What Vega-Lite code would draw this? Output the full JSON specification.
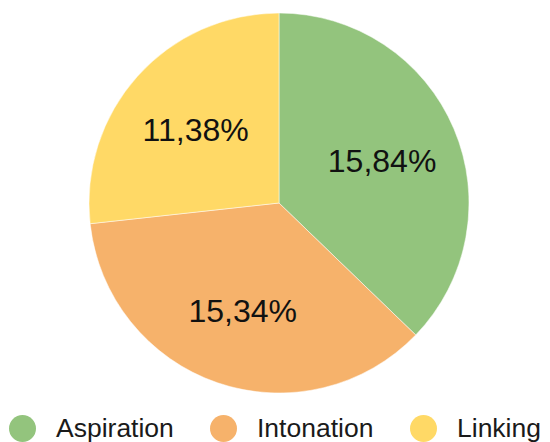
{
  "$schema": "https://vega.github.io/schema/vega-lite/v6.json",
  "autosize": "none",
  "width": 542,
  "height": 406,
  "padding": {"left": 8, "top": 0, "right": 0, "bottom": 36},
  "background": "white",
  "config": {"view": {"stroke": null}, "font": "Liberation Sans"},
  "data": {"values": [
    {"category": "Aspiration", "value": 15.84, "label": "15,84%"},
    {"category": "Intonation", "value": 15.34, "label": "15,34%"},
    {"category": "Linking", "value": 11.38, "label": "11,38%"}
  ]},
  "encoding": {
    "theta": {"field": "value", "type": "quantitative", "stack": true},
    "order": {"field": "category"}
  },
  "layer": [
    {
      "mark": {"type": "arc", "outerRadius": 190, "stroke": "white", "strokeWidth": 0.5},
      "encoding": {
        "color": {
          "field": "category", "type": "nominal",
          "scale": {"domain": ["Aspiration", "Intonation", "Linking"], "range": ["#93C47D", "#F6B26B", "#FFD966"]},
          "legend": {
            "title": null, "orient": "none", "legendX": 1, "legendY": 415, "direction": "horizontal",
            "symbolType": "circle", "symbolSize": 729, "symbolStrokeWidth": 0, "symbolOpacity": 1,
            "labelFontSize": 26.5, "labelColor": "#1a1a1a", "labelOffset": 20, "columnPadding": 36, "labelLimit": 200
          }
        }
      }
    },
    {
      "mark": {"type": "text", "radius": 112, "fontSize": 32, "dy": 3},
      "encoding": {"text": {"field": "label"}, "color": {"value": "#111111"}}
    }
  ]
}
